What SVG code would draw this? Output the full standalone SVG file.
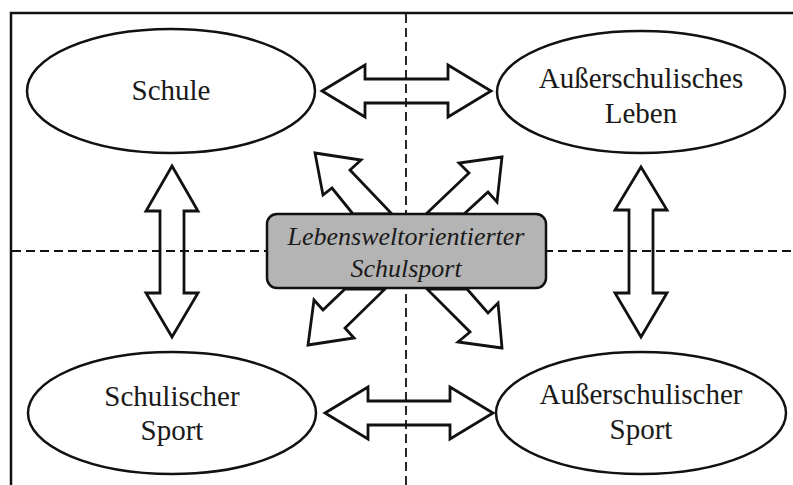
<svg xmlns="http://www.w3.org/2000/svg" width="793" height="485" viewBox="0 0 793 485">
<style>
.t{font-family:"Liberation Serif","Times New Roman",serif;font-size:29px;fill:#1a1a1a;text-anchor:middle}
.ti{font-family:"Liberation Serif","Times New Roman",serif;font-size:26px;font-style:italic;fill:#1a1a1a;text-anchor:middle}
.el{fill:#fff;stroke:#111;stroke-width:2.5}
.ar{fill:none;stroke:#111;stroke-width:2.8;stroke-linejoin:miter}
.da{stroke:#111;stroke-width:1.8;stroke-dasharray:9 5;fill:none}
</style>
<rect width="793" height="485" fill="#fff"/>
<rect x="11" y="13" width="800" height="500" fill="none" stroke="#111" stroke-width="2.5"/>
<g id="connectors">
<line class="da" x1="406" y1="14" x2="406" y2="485"/>
<line class="da" x1="12" y1="251" x2="793" y2="251"/>
<polygon class="ar" points="322,91 365,65 365,79 448,79 448,65 491,91 448,117 448,103 365,103 365,117"/>
<polygon class="ar" points="325,413 368,387 368,401 450,401 450,387 493,413 450,439 450,425 368,425 368,439"/>
<polygon class="ar" points="172,166 198,211 184,211 184,293 198,293 172,337 146,293 160,293 160,211 146,211"/>
<polygon class="ar" points="641,167 667,210 653,210 653,293 667,293 641,337 615,293 629,293 629,210 615,210"/>
<polygon class="ar" points="315,153 361,160 350,170 392,214 353,214 332,188 323,195"/>
<polygon class="ar" points="502,157 459,163 469,173 426,214 464,214 488,192 497,202"/>
<polygon class="ar" points="308,345 354,338 345,328 385,289 345,289 323,310 314,300"/>
<polygon class="ar" points="502,348 458,342 470,332 427,289 467,289 488,313 498,303"/>
</g>
<g id="schule">
<ellipse class="el" cx="171" cy="91" rx="144" ry="62"/>
<text class="t" x="171" y="100">Schule</text>
</g>
<g id="ausserschulisches-leben">
<ellipse class="el" cx="641" cy="92" rx="144" ry="61"/>
<text class="t" x="641" y="88">Außerschulisches</text>
<text class="t" x="641" y="123">Leben</text>
</g>
<g id="schulischer-sport">
<ellipse class="el" cx="172" cy="413" rx="144" ry="61"/>
<text class="t" x="172" y="406">Schulischer</text>
<text class="t" x="172" y="440">Sport</text>
</g>
<g id="ausserschulischer-sport">
<ellipse class="el" cx="641" cy="413" rx="145" ry="61"/>
<text class="t" x="641" y="404">Außerschulischer</text>
<text class="t" x="641" y="439">Sport</text>
</g>
<g id="center">
<rect x="267" y="214" width="279" height="74" rx="10" fill="#b4b4b4" stroke="#111" stroke-width="2.5"/>
<text class="ti" x="406" y="245">Lebensweltorientierter</text>
<text class="ti" x="406" y="277">Schulsport</text>
</g>
</svg>
